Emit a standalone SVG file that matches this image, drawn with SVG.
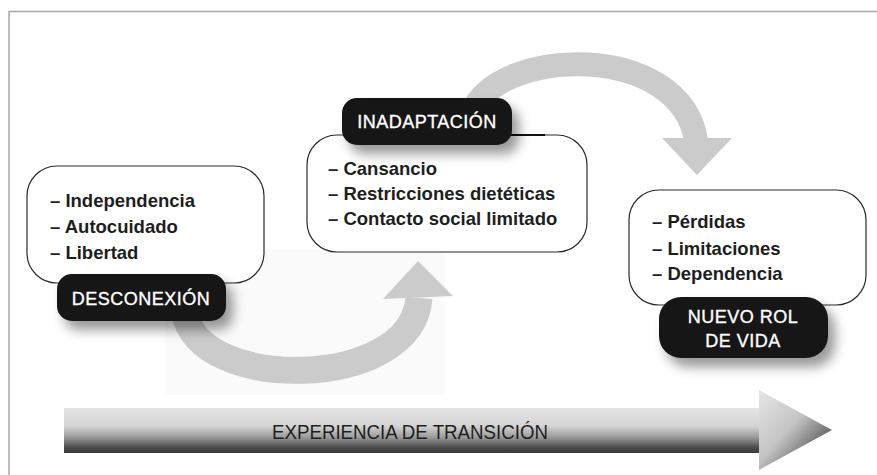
<svg xmlns="http://www.w3.org/2000/svg" width="877" height="475" viewBox="0 0 877 475">
  <defs>
    <style>
      .box { fill: #ffffff; stroke: #2a2a2a; stroke-width: 1.2; }
      .item { font-family: "Liberation Sans", Arial, sans-serif; font-size: 18.5px; font-weight: bold; fill: #1e1e1e; }
      .lbl { fill: #161616; }
      .lbltxt { font-family: "Liberation Sans", Arial, sans-serif; font-size: 18px; fill: #ffffff; stroke: #ffffff; stroke-width: 0.35px; text-anchor: middle; letter-spacing: 0.5px; }
      .flow { fill: none; stroke: #cbcbcb; }
      .head { fill: #cbcbcb; }
    </style>
    <filter id="shadow" x="-30%" y="-40%" width="170%" height="200%">
      <feDropShadow dx="7" dy="9" stdDeviation="6" flood-color="#000" flood-opacity="0.4"/>
    </filter>
    <linearGradient id="shaftGrad" x1="0" y1="0" x2="0" y2="1">
      <stop offset="0" stop-color="#e4e4e4"/>
      <stop offset="0.4" stop-color="#d4d4d4"/>
      <stop offset="0.65" stop-color="#9a9a9a"/>
      <stop offset="0.88" stop-color="#4a4a4a"/>
      <stop offset="1" stop-color="#3a3a3a"/>
    </linearGradient>
    <linearGradient id="headGrad" x1="0" y1="0" x2="1" y2="1">
      <stop offset="0" stop-color="#e6e6e6"/>
      <stop offset="0.45" stop-color="#c4c4c4"/>
      <stop offset="0.75" stop-color="#6a6a6a"/>
      <stop offset="1" stop-color="#2e2e2e"/>
    </linearGradient>
  </defs>

  <rect width="877" height="475" fill="#ffffff"/>
  <!-- frame -->
  <path d="M 9 475 L 9 11.5 L 877 11.5" fill="none" stroke="#a8a8a8" stroke-width="1.5"/>

  <!-- faint backdrop behind lower arc -->
  <rect x="165" y="250" width="280" height="145" fill="#fafafa"/>

  <!-- connectors -->
  <g id="connectors">
    <path class="flow" stroke-width="27" d="M 185 312 C 195 392, 412 392, 419 298"/>
    <polygon class="head" points="383,299 453,296 418,261"/>
    <path class="flow" stroke-width="24" d="M 472 112 C 500 46, 680 42, 696 140"/>
    <polygon class="head" points="662,138 732,138 697,175"/>
  </g>

  <!-- transition arrow -->
  <g id="transicion">
    <rect x="64" y="408" width="696" height="45" fill="url(#shaftGrad)"/>
    <polygon points="759,390 832,430 759,470" fill="url(#headGrad)"/>
    <text x="410" y="439" font-family="'Liberation Sans', Arial, sans-serif" font-size="20" fill="#1e1e1e" text-anchor="middle" textLength="276" lengthAdjust="spacingAndGlyphs">EXPERIENCIA DE TRANSICIÓN</text>
  </g>

  <!-- Desconexión -->
  <g id="desconexion">
    <rect class="box" x="27" y="166" width="237" height="117" rx="30" ry="30"/>
    <text class="item" x="50" y="207">– Independencia</text>
    <text class="item" x="50" y="233">– Autocuidado</text>
    <text class="item" x="50" y="259">– Libertad</text>
    <rect class="lbl" x="57" y="274" width="169" height="47" rx="15" ry="15" filter="url(#shadow)"/>
    <text class="lbltxt" x="141" y="305">DESCONEXIÓN</text>
  </g>

  <!-- Inadaptación -->
  <g id="inadaptacion">
    <rect class="box" x="307" y="135" width="280" height="117" rx="30" ry="30"/>
    <line x1="505" y1="135" x2="545" y2="135" stroke="#111" stroke-width="2"/>
    <text class="item" x="328" y="175">– Cansancio</text>
    <text class="item" x="328" y="200">– Restricciones dietéticas</text>
    <text class="item" x="328" y="225">– Contacto social limitado</text>
    <rect class="lbl" x="342" y="98" width="170" height="47" rx="15" ry="15" filter="url(#shadow)"/>
    <text class="lbltxt" x="427" y="128">INADAPTACIÓN</text>
  </g>

  <!-- Nuevo rol de vida -->
  <g id="nuevo-rol">
    <rect class="box" x="629" y="190" width="237" height="115" rx="30" ry="30"/>
    <text class="item" x="652" y="228">– Pérdidas</text>
    <text class="item" x="652" y="255">– Limitaciones</text>
    <text class="item" x="652" y="280">– Dependencia</text>
    <rect class="lbl" x="659" y="297" width="169" height="61" rx="22" ry="22" filter="url(#shadow)"/>
    <text class="lbltxt" x="743" y="323">NUEVO ROL</text>
    <text class="lbltxt" x="743" y="347">DE VIDA</text>
  </g>
</svg>
